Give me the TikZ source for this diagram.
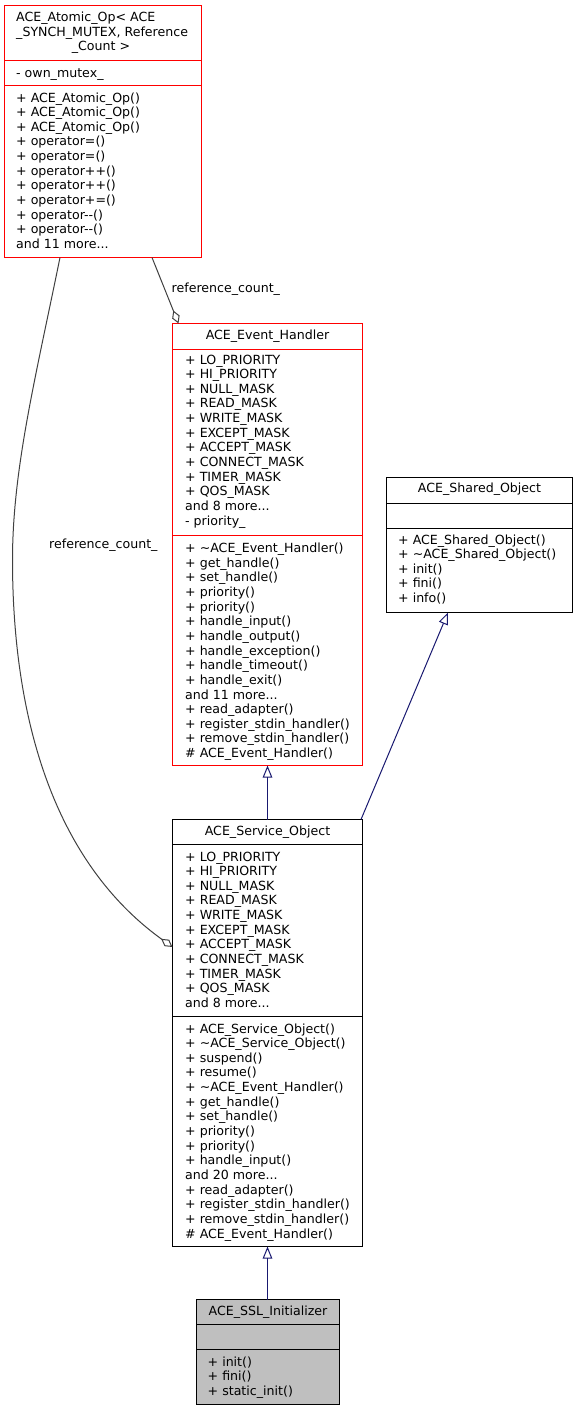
\documentclass[tikz,border=0pt]{standalone}
\usepackage{fontspec}
\setmainfont{DejaVu Sans}
\usetikzlibrary{arrows.meta,calc}
\definecolor{edgegray}{HTML}{404040}
\definecolor{inhblue}{HTML}{191970}
\definecolor{boxred}{HTML}{FF0000}
\definecolor{sslgray}{HTML}{BFBFBF}
\newcommand{\tdots}{.\kern0pt.\kern0pt.}
\begin{document}
\begin{tikzpicture}[x=1pt,y=-1pt,
  font=\fontsize{12.6}{14.65}\selectfont,
  clsbox/.style={line width=1pt, inner sep=0pt, outer sep=0pt, anchor=north west},
  redbox/.style={clsbox, draw=boxred, line width=1.3pt},
  txt/.style={anchor=base west, inner sep=0pt},
  ttl/.style={anchor=base, inner sep=0pt},
  sepline/.style={line width=1pt},
  redsep/.style={line width=1.3pt, draw=boxred},
  agg/.style={draw=edgegray, line width=1pt, -{Diamond[open,length=14pt,width=8pt]}},
  inh/.style={draw=inhblue, line width=1pt, -{Triangle[open,length=12pt,width=9.5pt]}}]
\useasboundingbox (0,0) rectangle (577,1411);

% ---------- ACE_Atomic_Op ----------
\node[redbox, minimum width=197pt, minimum height=252pt] (ao) at (4.5,5.5) {};
\draw[redsep] (4.5,60.5) -- (201.5,60.5);
\draw[redsep] (4.5,85.5) -- (201.5,85.5);
\node[txt] (ao-t1) at (16,21.5) {ACE\_Atomic\_Op< ACE};
\node[txt] (ao-t2) at (16,36) {\_SYNCH\_MUTEX, Reference};
\node[ttl] (ao-t3) at (101,50.5) {\_Count >};
\node[txt] (ao-a1) at (16,77.5) {- own\_mutex\_};
\foreach \t [count=\i] in {+ ACE\_Atomic\_Op(), + ACE\_Atomic\_Op(), + ACE\_Atomic\_Op(),
  + operator=(), + operator=(), + operator++(), + operator++(), + operator+=(),
  + operator-{}-(), + operator-{}-(), and 11 more\tdots}
  \node[txt] (ao-m\i) at (16,{102+14.65*(\i-1)}) {\t};

% ---------- ACE_Event_Handler ----------
\node[redbox, minimum width=190pt, minimum height=442pt] (eh) at (172.5,323.5) {};
\draw[redsep] (172.5,349.5) -- (362.5,349.5);
\draw[redsep] (172.5,535.5) -- (362.5,535.5);
\node[ttl] (eh-t) at (267.5,339) {ACE\_Event\_Handler};
\foreach \t [count=\i] in {+ LO\_PRIORITY, + HI\_PRIORITY, + NULL\_MASK, + READ\_MASK,
  + WRITE\_MASK, + EXCEPT\_MASK, + ACCEPT\_MASK, + CONNECT\_MASK, + TIMER\_MASK,
  + QOS\_MASK, and 8 more\tdots, - priority\_}
  \node[txt] (eh-a\i) at (185,{364+14.65*(\i-1)}) {\t};
\foreach \t [count=\i] in {+ \textasciitilde ACE\_Event\_Handler(), + get\_handle(),
  + set\_handle(), + priority(), + priority(), + handle\_input(), + handle\_output(),
  + handle\_exception(), + handle\_timeout(), + handle\_exit(), and 11 more\tdots,
  + read\_adapter(), + register\_stdin\_handler(), + remove\_stdin\_handler(),
  \# ACE\_Event\_Handler()}
  \node[txt] (eh-m\i) at (185,{552.5+14.65*(\i-1)}) {\t};

% ---------- ACE_Shared_Object ----------
\node[clsbox, draw=black, minimum width=186pt, minimum height=135pt] (sh) at (386.5,477.5) {};
\draw[sepline] (386.5,503.5) -- (572.5,503.5);
\draw[sepline] (386.5,528.5) -- (572.5,528.5);
\node[ttl] (sh-t) at (479.5,492.5) {ACE\_Shared\_Object};
\foreach \t [count=\i] in {+ ACE\_Shared\_Object(), + \textasciitilde ACE\_Shared\_Object(),
  + init(), + fini(), + info()}
  \node[txt] (sh-m\i) at (398,{544+14.65*(\i-1)}) {\t};

% ---------- ACE_Service_Object ----------
\node[clsbox, draw=black, minimum width=190pt, minimum height=427pt] (so) at (172.5,819.5) {};
\draw[sepline] (172.5,844.5) -- (362.5,844.5);
\draw[sepline] (172.5,1016.5) -- (362.5,1016.5);
\node[ttl] (so-t) at (267.5,835) {ACE\_Service\_Object};
\foreach \t [count=\i] in {+ LO\_PRIORITY, + HI\_PRIORITY, + NULL\_MASK, + READ\_MASK,
  + WRITE\_MASK, + EXCEPT\_MASK, + ACCEPT\_MASK, + CONNECT\_MASK, + TIMER\_MASK,
  + QOS\_MASK, and 8 more\tdots}
  \node[txt] (so-a\i) at (185,{861+14.65*(\i-1)}) {\t};
\foreach \t [count=\i] in {+ ACE\_Service\_Object(), + \textasciitilde ACE\_Service\_Object(),
  + suspend(), + resume(), + \textasciitilde ACE\_Event\_Handler(), + get\_handle(),
  + set\_handle(), + priority(), + priority(), + handle\_input(), and 20 more\tdots,
  + read\_adapter(), + register\_stdin\_handler(), + remove\_stdin\_handler(),
  \# ACE\_Event\_Handler()}
  \node[txt] (so-m\i) at (185,{1033+14.65*(\i-1)}) {\t};

% ---------- ACE_SSL_Initializer ----------
\node[clsbox, draw=black, fill=sslgray, minimum width=143pt, minimum height=105pt] (ssl) at (196.5,1299.5) {};
\draw[sepline] (196.5,1324.5) -- (339.5,1324.5);
\draw[sepline] (196.5,1349.5) -- (339.5,1349.5);
\node[ttl] (ssl-t) at (268,1315) {ACE\_SSL\_Initializer};
\foreach \t [count=\i] in {+ init(), + fini(), + static\_init()}
  \node[txt] (ssl-m\i) at (207.5,{1366+14.65*(\i-1)}) {\t};

% ---------- connectors ----------
\draw[agg] ($(ao.south west)+(147.5,0)$) -- ($(eh.north west)+(6,0)$);
\node[txt] (lbl1) at (171.5,292.5) {reference\_count\_};

\draw[agg] ($(ao.south west)+(55.5,0)$) .. controls (35,380) and (12.5,470) .. (12.5,560)
  .. controls (12.5,700) and (45,855) .. ($(so.north west)+(0,127.5)$);
\node[txt] (lbl2) at (49,548) {reference\_count\_};

\draw[inh] (so.north) -- (eh.south);
\draw[inh] ($(so.north east)+(-1.5,0)$) -- ($(sh.south west)+(61.5,0)$);
\draw[inh] (so.south |- ssl.north) -- (so.south);
\end{tikzpicture}
\end{document}
